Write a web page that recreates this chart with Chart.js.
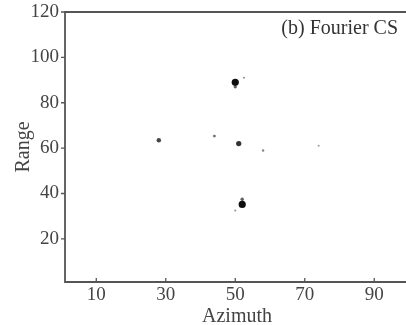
<!DOCTYPE html>
<html><head><meta charset="utf-8">
<script src="https://cdn.jsdelivr.net/npm/chart.js@4"></script>
<style>html,body{margin:0;padding:0;background:#fff;overflow:hidden}#w{width:420px;height:329px}</style>
</head><body><div id="w"><canvas id="c"></canvas></div>
<script>
// Scatterer positions and relative amplitudes
const azimuth   = [50, 50, 52.5, 51, 28, 44, 58, 74, 52, 52, 50];
const range     = [89, 87, 91, 62, 63.5, 65.3, 59, 61, 35.2, 37.5, 32.5];
const amplitude = [1.0, 0.55, 0.25, 0.8, 0.7, 0.45, 0.35, 0.2, 1.0, 0.55, 0.25];
const xTicks = [10, 30, 50, 70, 90];
const yTicks = [20, 40, 60, 80, 100, 120];
const panelTitle = '(b) Fourier CS';

const FONT = "'Liberation Serif', 'Times New Roman', serif";
const AX = '#555';

const framePlugin = {
  id: 'frame',
  afterDraw(chart) {
    const {ctx, chartArea: a, scales: {x, y}} = chart;
    ctx.save();
    ctx.strokeStyle = AX; ctx.lineWidth = 1.8;
    ctx.beginPath();
    ctx.moveTo(a.right, a.top); ctx.lineTo(a.left, a.top);
    ctx.lineTo(a.left, a.bottom); ctx.lineTo(a.right, a.bottom);
    ctx.stroke();
    ctx.lineWidth = 1.3;
    ctx.beginPath();
    xTicks.forEach(v => { const px = x.getPixelForValue(v); ctx.moveTo(px, a.bottom); ctx.lineTo(px, a.bottom - 4); });
    yTicks.forEach(v => { const py = y.getPixelForValue(v); ctx.moveTo(a.left, py); ctx.lineTo(a.left - 4, py); });
    ctx.stroke();
    ctx.fillStyle = '#333';
    ctx.font = "20px " + FONT;
    ctx.textAlign = 'right'; ctx.textBaseline = 'alphabetic';
    ctx.fillText(panelTitle, 398, 34);
    ctx.restore();
  }
};

new Chart(document.getElementById('c'), {
  type: 'scatter',
  data: {
    datasets: [{
      data: azimuth.map((a, i) => ({x: a, y: range[i]})),
      pointStyle: 'circle',
      pointRadius: ctx => 0.9 + 2.7 * Math.pow(amplitude[ctx.dataIndex], 2),
      pointBorderWidth: 0,
      pointBackgroundColor: ctx => 'rgba(15,15,15,' + (0.25 + 0.75 * amplitude[ctx.dataIndex]).toFixed(2) + ')',
      pointBorderColor: 'rgba(0,0,0,0)'
    }]
  },
  plugins: [framePlugin],
  options: {
    responsive: true, maintainAspectRatio: false, animation: false,
    layout: {padding: {top: 12, right: 11, left: 0, bottom: 0}},
    plugins: {legend: {display: false}, tooltip: {enabled: false}},
    scales: {
      x: {
        type: 'linear', min: 1, max: 100,
        afterBuildTicks: s => { s.ticks = xTicks.map(v => ({value: v})); },
        afterFit: s => { s.height = 47; s.paddingLeft = 0; s.paddingRight = 0; },
        grid: {display: false, drawTicks: false},
        border: {display: false},
        ticks: {color: '#444', font: {family: FONT, size: 19}, padding: 2, maxRotation: 0},
        title: {display: true, text: 'Azimuth', color: '#444', font: {family: FONT, size: 20}, padding: {top: 0, bottom: 0}}
      },
      y: {
        type: 'linear', min: 1, max: 120,
        afterBuildTicks: s => { s.ticks = yTicks.map(v => ({value: v})); },
        afterFit: s => { s.width = 65; s.paddingTop = 0; s.paddingBottom = 0; },
        grid: {display: false, drawTicks: false},
        border: {display: false},
        ticks: {color: '#444', font: {family: FONT, size: 19}, padding: 6},
        title: {display: true, text: 'Range', color: '#444', font: {family: FONT, size: 20}, padding: {top: 12, bottom: 0}}
      }
    }
  }
});
</script></body></html>
